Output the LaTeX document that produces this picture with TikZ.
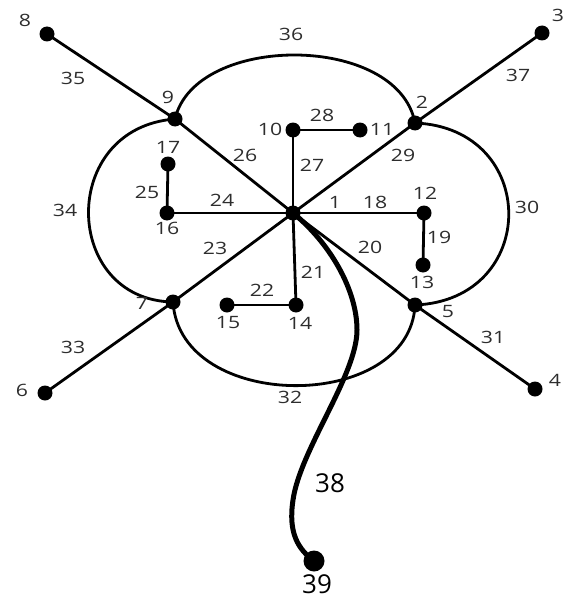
\documentclass[tikz,border=0pt]{standalone}
\usepackage{fontspec}
\setmainfont{Open Sans}
\newfontfamily\lblfont{Open Sans}[FakeStretch=1.25]
\definecolor{lblgray}{RGB}{45,45,45}
\begin{document}
\begin{tikzpicture}[x=1pt,y=-1pt,
  dot/.style={circle,fill=black,inner sep=0pt,minimum size=15pt},
  bigdot/.style={circle,fill=black,inner sep=0pt,minimum size=21pt},
  edge/.style={line width=2.8pt},
  curve/.style={line width=2.8pt},
  thickcurve/.style={line width=5pt,line cap=round},
  lbl/.style={font=\lblfont\fontsize{17}{17}\selectfont,text=lblgray,inner sep=0pt},
  biglbl/.style={font=\fontsize{26}{26}\selectfont,text=black,inner sep=0pt}]
\useasboundingbox (0,0) rectangle (570,599);
% dots
\node[dot] (n1) at (293,213) {};
\node[dot] (n2) at (415,123) {};
\node[dot] (n3) at (542,33) {};
\node[dot] (n4) at (535,389) {};
\node[dot] (n5) at (415,305) {};
\node[dot] (n6) at (45,393) {};
\node[dot] (n7) at (173,302) {};
\node[dot] (n8) at (47,34) {};
\node[dot] (n9) at (175,119) {};
\node[dot] (n10) at (293,130) {};
\node[dot] (n11) at (360,130) {};
\node[dot] (n12) at (424,213) {};
\node[dot] (n13) at (423,265) {};
\node[dot] (n14) at (296,305) {};
\node[dot] (n15) at (227,305) {};
\node[dot] (n16) at (167,213) {};
\node[dot] (n17) at (168,164) {};
\node[bigdot] (n39) at (314,561) {};
% straight edges
\draw[edge] (n8.center) -- (n9.center);
\draw[edge] (n9.center) -- (n1.center);
\draw[edge] (n1.center) -- (n7.center);
\draw[edge] (n7.center) -- (n6.center);
\draw[edge] (n2.center) -- (n3.center);
\draw[edge] (n1.center) -- (n2.center);
\draw[edge] (n1.center) -- (n5.center);
\draw[edge] (n5.center) -- (n4.center);
\draw[edge] (n1.center) -- (n16.center);
\draw[edge] (n16.center) -- (n17.center);
\draw[edge] (n1.center) -- (n10.center);
\draw[edge] (n10.center) -- (n11.center);
\draw[edge] (n1.center) -- (n12.center);
\draw[edge] (n12.center) -- (n13.center);
\draw[edge] (n1.center) -- (n14.center);
\draw[edge] (n14.center) -- (n15.center);
% petals
\draw[curve] (n9.center) .. controls (195,33) and (398,33) .. (n2.center);
\draw[curve] (n9.center) .. controls (58,128) and (62,300) .. (n7.center);
\draw[curve] (n2.center) .. controls (540,128) and (540,300) .. (n5.center);
\draw[curve] (n7.center) .. controls (180,413) and (410,413) .. (n5.center);
% stem
\coordinate (s1) at (357,330);
\coordinate (s2) at (293,500);
\draw[thickcurve] (n1.center) .. controls (330,243) and (357,290) .. (s1)
  .. controls (357,375) and (300,450) .. (s2)
  .. controls (288,533) and (298,549) .. (n39.center);
% labels
\node[lbl] at (25,20) {8};
\node[lbl] at (558,15) {3};
\node[lbl] at (555,380) {4};
\node[lbl] at (22,390) {6};
\node[lbl] at (142,303) {7};
\node[lbl] at (168,97) {9};
\node[lbl] at (422,102) {2};
\node[lbl] at (448,312) {5};
\node[lbl] at (270,129) {10};
\node[lbl] at (382,129) {11};
\node[lbl] at (425,193) {12};
\node[lbl] at (422,282) {13};
\node[lbl] at (300,323) {14};
\node[lbl] at (228,323) {15};
\node[lbl] at (167,228) {16};
\node[lbl] at (168,147) {17};
\node[lbl] at (335,202) {1};
\node[lbl] at (375,202) {18};
\node[lbl] at (439,237) {19};
\node[lbl] at (370,247) {20};
\node[lbl] at (313,272) {21};
\node[lbl] at (262,290) {22};
\node[lbl] at (215,248) {23};
\node[lbl] at (222,200) {24};
\node[lbl] at (147,192) {25};
\node[lbl] at (245,155) {26};
\node[lbl] at (312,165) {27};
\node[lbl] at (322,115) {28};
\node[lbl] at (403,155) {29};
\node[lbl] at (527,207) {30};
\node[lbl] at (493,337) {31};
\node[lbl] at (290,397) {32};
\node[lbl] at (73,347) {33};
\node[lbl] at (65,210) {34};
\node[lbl] at (73,78) {35};
\node[lbl] at (291,34) {36};
\node[lbl] at (518,75) {37};
\node[biglbl] at (330,483) {38};
\node[biglbl] at (317,584) {39};
\end{tikzpicture}
\end{document}
